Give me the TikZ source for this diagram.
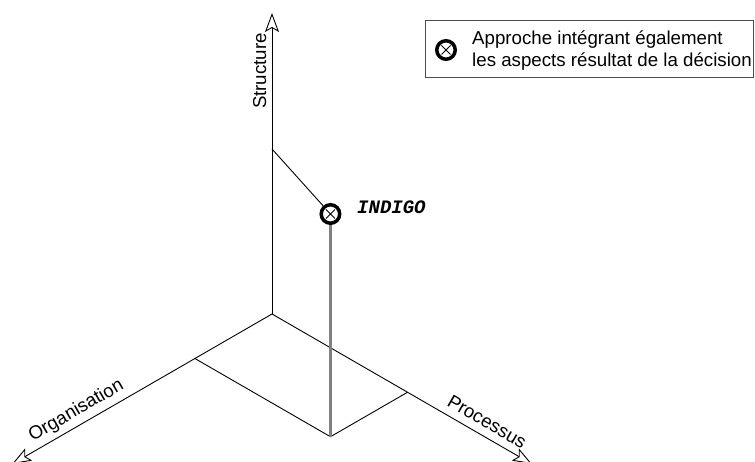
\documentclass[tikz,border=0pt]{standalone}
\usepackage{fontspec}
\setmainfont{Liberation Sans}
\newfontfamily\indigofont{Liberation Mono}
\usetikzlibrary{arrows.meta, calc}

\begin{document}
\begin{tikzpicture}[x=1pt,y=1pt,>={Stealth[fill=white,length=19pt,width=14pt,inset=4pt]},
        axis/.style={->,line width=0.9pt},
        guide/.style={line width=0.9pt},
        axlabel/.style={font=\fontsize{18.7}{21.7}\selectfont,inner sep=0pt,anchor=base},
        indigomark/.style={circle,draw,line width=3.5pt,minimum size=18.5pt,inner sep=0pt,
            path picture={\draw[line width=0.8pt]
                ($(path picture bounding box.center)+(-4.5,-4.5)$) -- ++(9,9)
                ($(path picture bounding box.center)+(-4.5,4.5)$) -- ++(9,-9);}}]

    \useasboundingbox (0,0) rectangle (755,462);

    % axes
    \coordinate (O) at (272,148);
    \coordinate (struct) at (272,449);
    \coordinate (org) at ($(O)+(210:300)$);
    \coordinate (proc) at ($(O)+(-30:300)$);
    \draw[axis] (O) -- (struct);
    \draw[axis] (O) -- (org);
    \draw[axis] (O) -- (proc);

    \node[axlabel,rotate=90] (structlabel) at (266,391) {Structure};
    \node[axlabel,rotate=30] (orglabel) at ($(O)+(210:218)+(120:9)$) {Organisation};
    \node[axlabel,rotate=-30] (proclabel) at ($(O)+(-30:240)+(60:8)$) {Processus};

    % projection of INDIGO
    \coordinate (a) at ($(O)+(210:89)$);
    \coordinate (b) at ($(O)+(-30:156.5)$);
    \coordinate (c) at ($(a)+(b)-(O)$);
    \coordinate (s) at (272,313);
    \draw[guide] (a) -- (c) -- (b);
    \node[indigomark] (ind) at (c |- 0,248) {};
    \draw[black!50,line width=2.2pt] (c) -- (ind.south);
    \draw[guide] (s) -- (ind);
    \node[font=\indigofont\bfseries\itshape\fontsize{19}{21}\selectfont,anchor=base west,inner sep=0pt]
        (indlabel) at (357,248.7) {INDIGO};

    % legend
    \draw[black!70,line width=0.9pt] (425,385) rectangle (753,442);
    \node[indigomark] (legmark) at (446,412) {};
    \node[axlabel,anchor=base west,align=left] (legtext) at (472,395.3)
        {Approche intégrant également\\les aspects résultat de la décision};
\end{tikzpicture}
\end{document}
